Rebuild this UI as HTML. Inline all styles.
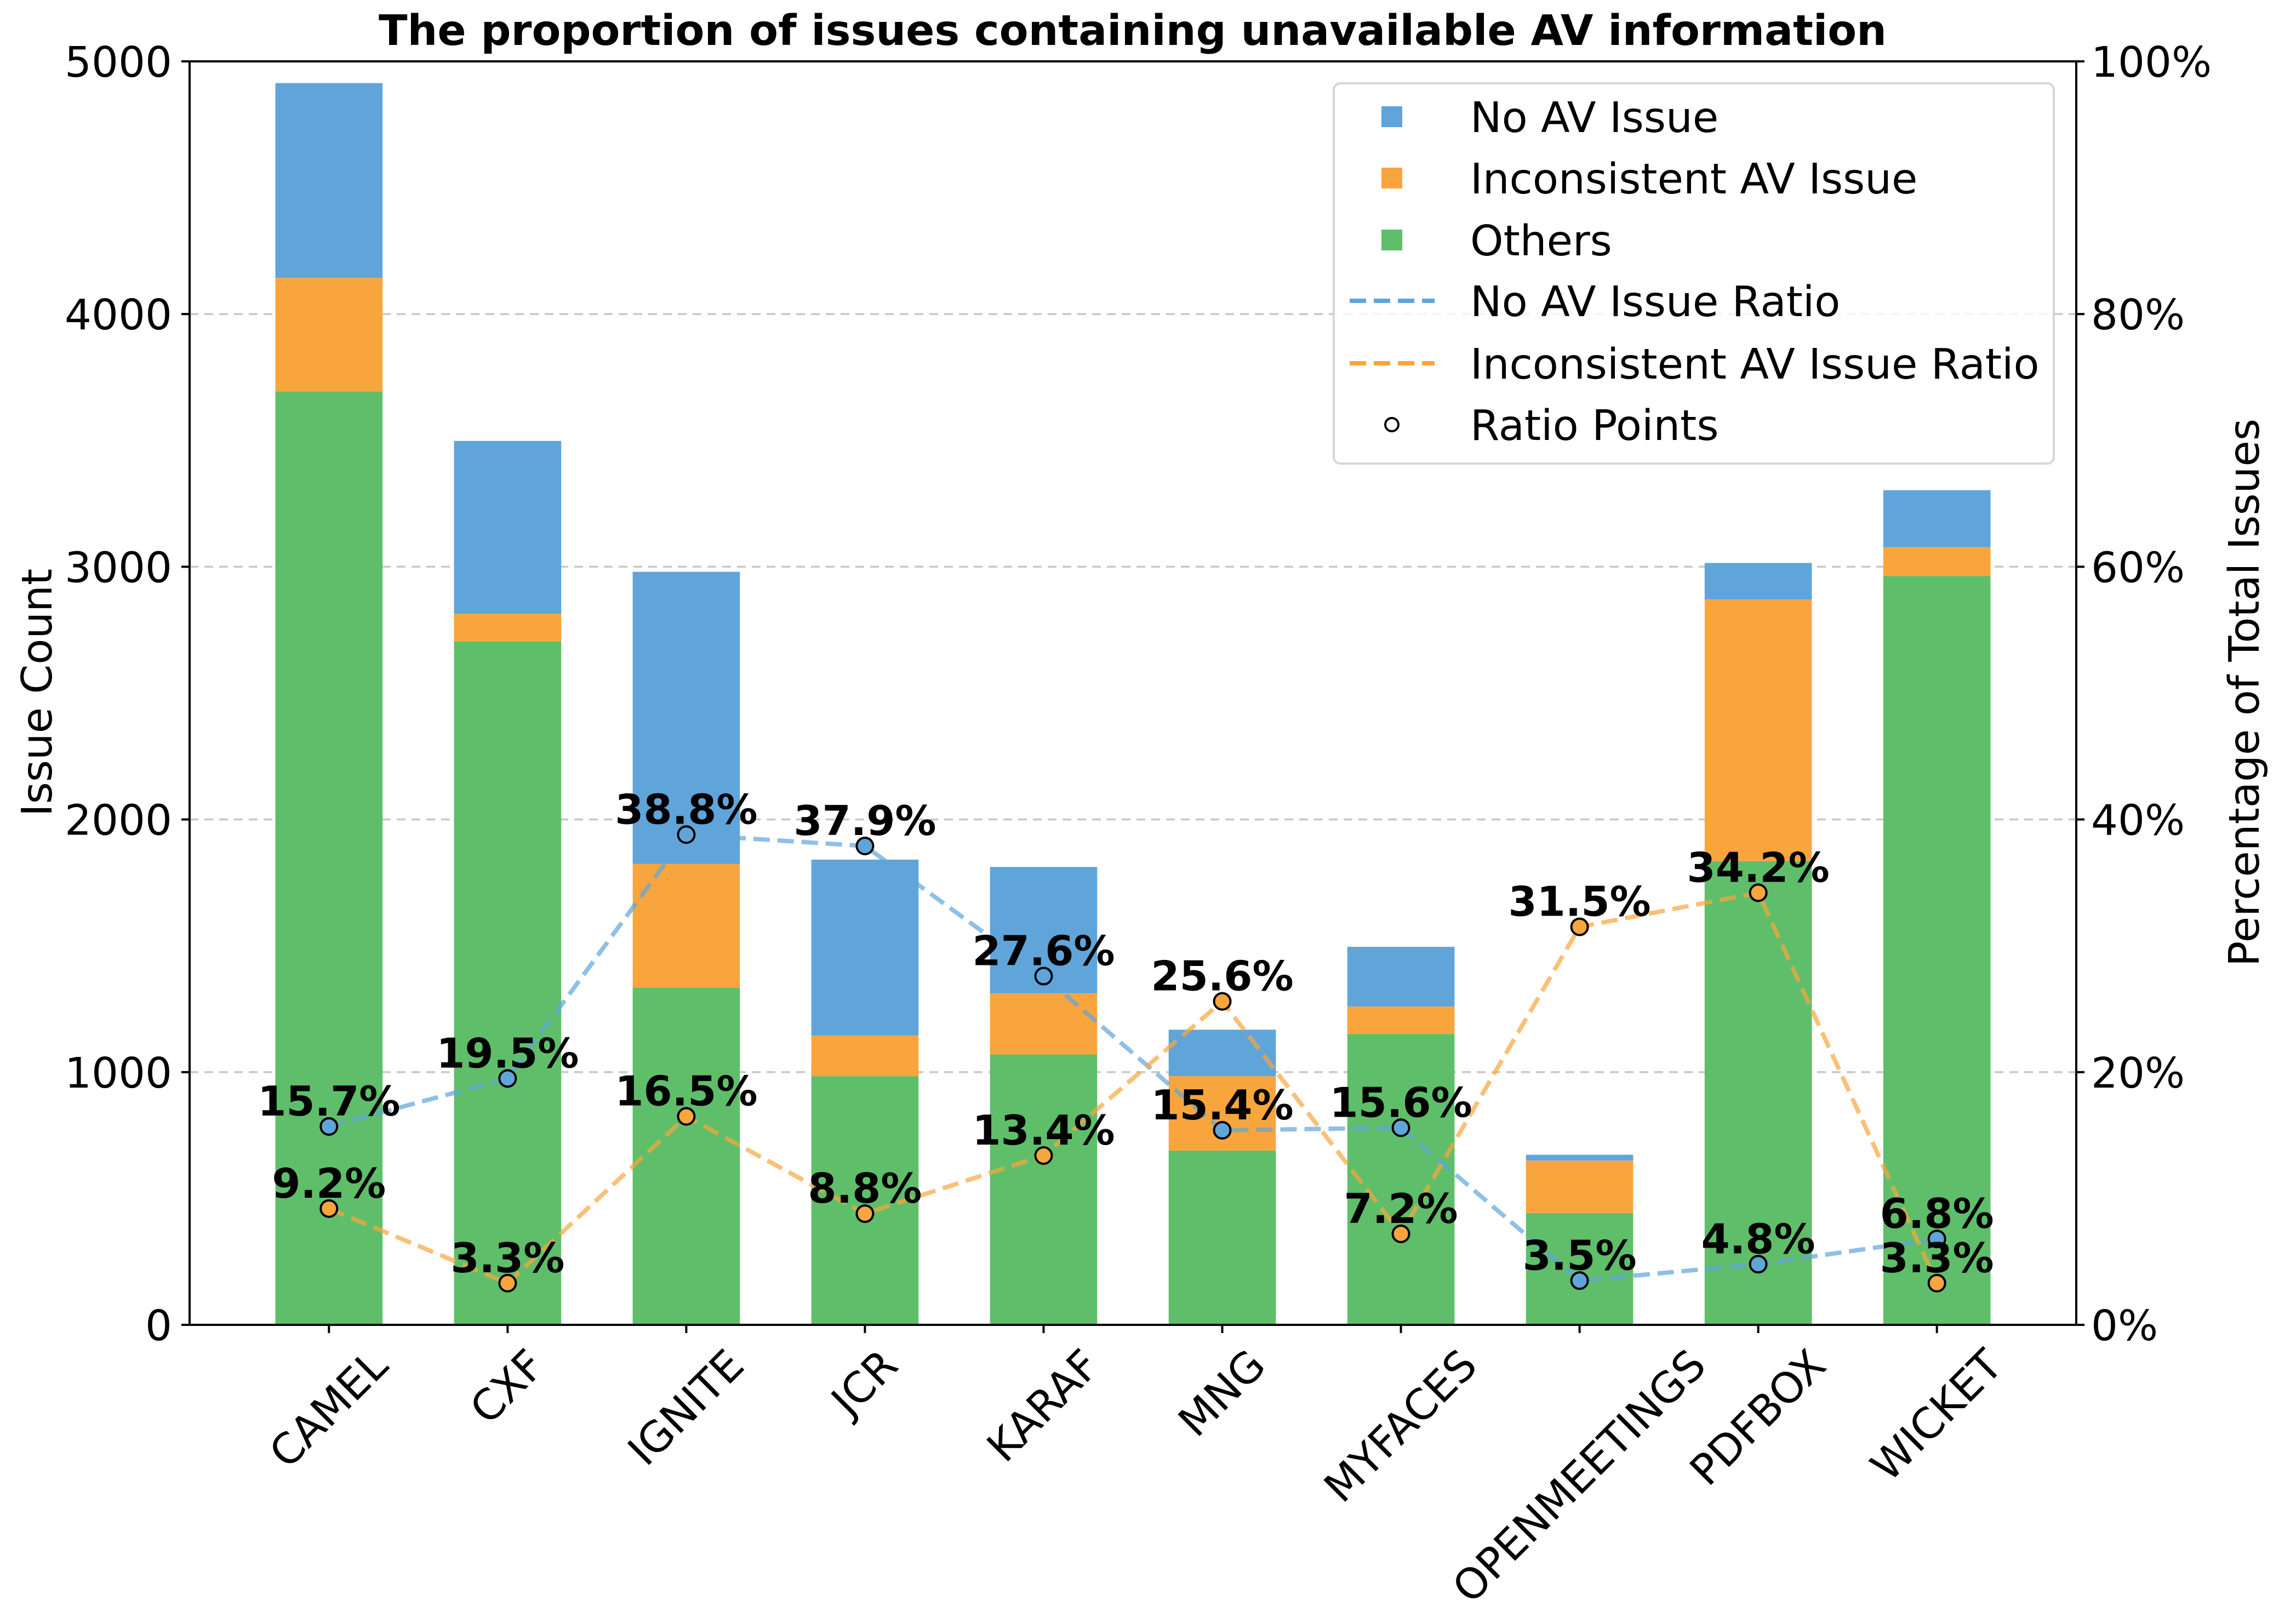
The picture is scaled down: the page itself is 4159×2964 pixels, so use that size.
<!DOCTYPE html>
<html><head><meta charset="utf-8">
<style>
html,body{margin:0;padding:0;background:#fff;}
svg{display:block;font-family:"DejaVu Sans","Liberation Sans",sans-serif;}
</style></head>
<body>
<svg id="chart" width="4159" height="2964" viewBox="0 0 4159 2964" xmlns="http://www.w3.org/2000/svg">
<rect x="0" y="0" width="4159" height="2964" fill="#fff"/>
<g id="grid"></g>
<g id="bars"></g>
<g id="lines"></g>
<g id="points"></g>
<g id="labels"></g>
<g id="axes"></g>
<text x="2067" y="82" text-anchor="middle" font-size="77" font-weight="bold">The proportion of issues containing unavailable AV information</text>
<text x="0" y="0" text-anchor="middle" font-size="77" transform="translate(94,1264) rotate(-90)">Issue Count</text>
<text x="0" y="0" text-anchor="middle" font-size="77" transform="translate(4122,1264) rotate(-90)">Percentage of Total Issues</text>
<g id="legend">
  <rect x="2434" y="152" width="1314" height="694" rx="12" fill="#fff" fill-opacity="0.8" stroke="#d6d6d6" stroke-width="4"/>
  <rect x="2521" y="194" width="38" height="38" fill="#5fa5da"/>
  <text x="2683" y="241" font-size="77">No AV Issue</text>
  <rect x="2521" y="306" width="38" height="38" fill="#f9a53d"/>
  <text x="2683" y="353" font-size="77">Inconsistent AV Issue</text>
  <rect x="2521" y="419" width="38" height="38" fill="#5fbe6a"/>
  <text x="2683" y="466" font-size="77">Others</text>
  <line x1="2463" y1="549" x2="2618" y2="549" stroke="#5fa5da" stroke-width="8" stroke-dasharray="30 14"/>
  <text x="2683" y="577" font-size="77">No AV Issue Ratio</text>
  <line x1="2463" y1="663" x2="2618" y2="663" stroke="#f9a53d" stroke-width="8" stroke-dasharray="30 14"/>
  <text x="2683" y="691" font-size="77">Inconsistent AV Issue Ratio</text>
  <circle cx="2540" cy="775" r="12" fill="none" stroke="#000" stroke-width="4"/>
  <text x="2683" y="803" font-size="77">Ratio Points</text>
</g>
</svg>
<script>
const categories = ["CAMEL","CXF","IGNITE","JCR","KARAF","MNG","MYFACES","OPENMEETINGS","PDFBOX","WICKET"];
const othersCounts = [3694,2704,1335,984,1070,690,1151,443,1835,2963];
const inconsistentCounts = [449,110,489,161,242,294,109,207,1036,115];
const noAvCounts = [771,684,1156,696,500,184,236,23,144,225];
const noAvRatio = [15.7,19.5,38.8,37.9,27.6,15.4,15.6,3.5,4.8,6.8];
const inconsistentRatio = [9.2,3.3,16.5,8.8,13.4,25.6,7.2,31.5,34.2,3.3];
const leftTicks = [0,1000,2000,3000,4000,5000];
const rightTicks = [0,20,40,60,80,100];

const NS = "http://www.w3.org/2000/svg";
const L = 346, R = 3789, T = 112, B = 2418;
const xMin = -0.78, xMax = categories.length - 1 + 0.78;
const xs = i => L + (i - xMin) / (xMax - xMin) * (R - L);
const yL = v => B - v / 5000 * (B - T);
const yR = p => B - p / 100 * (B - T);
const barW = 0.6 * (R - L) / (xMax - xMin);

function mk(tag, attrs, parent) {
  const el = document.createElementNS(NS, tag);
  for (const k in attrs) el.setAttribute(k, attrs[k]);
  parent.appendChild(el);
  return el;
}
const gGrid = document.getElementById('grid');
const gBars = document.getElementById('bars');
const gLines = document.getElementById('lines');
const gPts = document.getElementById('points');
const gLab = document.getElementById('labels');
const gAx = document.getElementById('axes');

leftTicks.forEach(v => {
  if (v === 0 || v === 5000) return;
  const ln = mk('line', {x1: L, x2: R, y1: yL(v), y2: yL(v), stroke: '#c8c8c8', 'stroke-width': 3.5, 'stroke-dasharray': '16 11'}, gGrid);
  
  
});

categories.forEach((c, i) => {
  const x = xs(i) - barW / 2;
  const segs = [['others', othersCounts[i], 0, '#5fbe6a'],
                ['inconsistent', inconsistentCounts[i], othersCounts[i], '#f9a53d'],
                ['no-av', noAvCounts[i], othersCounts[i] + inconsistentCounts[i], '#5fa5da']];
  segs.forEach(s => {
    const r = mk('rect', {x: x, width: barW, y: yL(s[2] + s[1]), height: yL(s[2]) - yL(s[2] + s[1]), fill: s[3]}, gBars);
    
    
  });
});

function series(vals, color, name) {
  const pts = vals.map((v, i) => xs(i) + ',' + yR(v)).join(' ');
  const pl = mk('polyline', {points: pts, fill: 'none', stroke: color, 'stroke-opacity': 0.7, 'stroke-width': 8, 'stroke-dasharray': '30 14'}, gLines);
  
  
  vals.forEach((v, i) => {
    const c = mk('circle', {cx: xs(i), cy: yR(v), r: 15, fill: color, stroke: '#000', 'stroke-width': 4}, gPts);
    
    
    const t = mk('text', {x: xs(i), y: yR(v) - 20, 'text-anchor': 'middle', 'font-size': 75, 'font-weight': 'bold'}, gLab);
    t.textContent = v.toFixed(1) + '%';
    
    
  });
}
series(noAvRatio, '#5fa5da', 'no-av-ratio');
series(inconsistentRatio, '#f9a53d', 'inconsistent-ratio');

const frame = mk('rect', {x: L, y: T, width: R - L, height: B - T, fill: 'none', stroke: '#000', 'stroke-width': 4}, gAx);



leftTicks.forEach(v => {
  const tk = mk('line', {x1: L - 15, x2: L, y1: yL(v), y2: yL(v), stroke: '#000', 'stroke-width': 4}, gAx);
  
  
  const t = mk('text', {x: L - 32, y: yL(v) + 28, 'text-anchor': 'end', 'font-size': 77}, gAx);
  t.textContent = String(v);
  
  
});
rightTicks.forEach(p => {
  const tk = mk('line', {x1: R, x2: R + 15, y1: yR(p), y2: yR(p), stroke: '#000', 'stroke-width': 4}, gAx);
  
  
  const t = mk('text', {x: R + 27, y: yR(p) + 28, 'text-anchor': 'start', 'font-size': 77}, gAx);
  t.textContent = p + '%';
  
  
});
categories.forEach((c, i) => {
  const tk = mk('line', {x1: xs(i), x2: xs(i), y1: B, y2: B + 15, stroke: '#000', 'stroke-width': 4}, gAx);
  
  
  const t = mk('text', {x: 0, y: 0, 'text-anchor': 'middle', 'dominant-baseline': 'central', 'font-size': 77}, gAx);
  t.textContent = c;
  
  
  const w = t.getComputedTextLength();
  const h = 77 * 0.75;
  const bh = (w + h) * Math.SQRT1_2;
  const cy = B + 40 + bh / 2;
  t.setAttribute('transform', 'translate(' + xs(i) + ',' + cy + ') rotate(-45)');
});
</script>
</body></html>
